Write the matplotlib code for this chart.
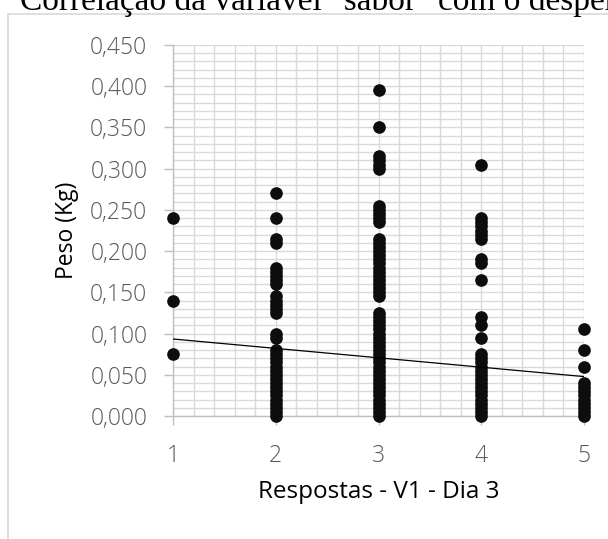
import numpy as np
import matplotlib.pyplot as plt
from matplotlib.patches import Rectangle
from matplotlib.ticker import FuncFormatter

# Respostas (x) e pesos (kg)
peso_r1 = [0.240, 0.140, 0.075]
peso_r2 = [0.270, 0.240, 0.215, 0.210, 0.180, 0.175, 0.170, 0.165, 0.160,
           0.145, 0.140, 0.135, 0.130, 0.125, 0.100, 0.095,
           0.080, 0.075, 0.070, 0.065, 0.060, 0.055, 0.050, 0.045, 0.040,
           0.035, 0.030, 0.025, 0.020, 0.015, 0.010, 0.005, 0.000]
peso_r3 = [0.395, 0.350, 0.315, 0.310, 0.305, 0.300,
           0.255, 0.250, 0.245, 0.240, 0.235,
           0.215, 0.210, 0.205, 0.200, 0.195, 0.190, 0.185, 0.180, 0.175,
           0.170, 0.165, 0.160, 0.155, 0.150, 0.145,
           0.125, 0.120, 0.115, 0.110, 0.105, 0.100, 0.095, 0.090, 0.085,
           0.080, 0.075, 0.070, 0.065, 0.060, 0.055, 0.050, 0.045, 0.040,
           0.035, 0.030, 0.025, 0.020, 0.015, 0.010, 0.005, 0.000]
peso_r4 = [0.305, 0.240, 0.235, 0.230, 0.225, 0.220, 0.215,
           0.190, 0.185, 0.165, 0.120, 0.110, 0.095,
           0.075, 0.070, 0.065, 0.060, 0.055, 0.050, 0.045, 0.040,
           0.035, 0.030, 0.025, 0.020, 0.015, 0.010, 0.005, 0.000]
peso_r5 = [0.105, 0.080, 0.060, 0.040, 0.035, 0.030, 0.025, 0.020,
           0.015, 0.010, 0.005, 0.000]
respostas = [1, 2, 3, 4, 5]

# linha de tendência linear (inclinação, intercepto)
trend_coef = [-0.0114, 0.1048]

grid_col = '#d9d9d9'
axis_col = '#bfbfbf'
font = ['Open Sans', 'DejaVu Sans']

fig = plt.figure(figsize=(6.08, 5.39), dpi=100)
ax = fig.add_axes([173/608, 1 - 416/539, 411/608, 371/539])

# moldura da área do gráfico (cortada)
fig.add_artist(Rectangle((8/608, -0.1), 1.2, 1.1 - 14/539, transform=fig.transFigure,
                         fill=False, edgecolor=grid_col, linewidth=1.2, clip_on=False))

# título cortado no topo
fig.text(20/608, 1 - 10/539, 'Correlação da variável "sabor" com o desperdício',
         family=['Liberation Serif', 'DejaVu Serif'], fontsize=24, va='baseline',
         ha='left', color='black')

for r, pesos in zip(respostas, [peso_r1, peso_r2, peso_r3, peso_r4, peso_r5]):
    ax.scatter([r] * len(pesos), pesos, s=83, color='#0d0d0d', zorder=3,
               clip_on=False, linewidths=0)

xs = np.array([respostas[0], respostas[-1]])
ax.plot(xs, np.polyval(trend_coef, xs), color='black', linewidth=0.9, zorder=4)

ax.set_xlim(1, 5)
ax.set_ylim(0, 0.45)
ax.set_xticks(respostas)
ax.set_xticks(np.arange(1, 5.01, 0.2), minor=True)
ax.set_yticks(np.arange(0, 0.451, 0.05))
ax.set_yticks(np.arange(0, 0.451, 0.01), minor=True)
ax.yaxis.set_major_formatter(FuncFormatter(lambda v, p: f'{v:.3f}'.replace('.', ',')))

ax.grid(True, which='both', color=grid_col, linewidth=1.0)
ax.set_axisbelow(True)
for s in ['top', 'right']:
    ax.spines[s].set_visible(False)
for s in ['left', 'bottom']:
    ax.spines[s].set_color(axis_col)
    ax.spines[s].set_linewidth(1.0)

ax.tick_params(which='major', direction='out', length=6.5, width=1.0, color=axis_col,
               labelsize=16.5, labelcolor='#595959')
ax.tick_params(which='minor', length=0)
ax.tick_params(axis='x', pad=14)
ax.tick_params(axis='y', pad=12)
for lbl in ax.get_xticklabels() + ax.get_yticklabels():
    lbl.set_family(font)
    lbl.set_fontweight('light')

ax.set_xlabel('Respostas - V1 - Dia 3', family=font, fontsize=17.5, color='black', labelpad=8)
ax.set_ylabel('Peso (Kg)', family=font, fontsize=16.5, color='black', labelpad=8)

fig.savefig('out.png', dpi=100)
